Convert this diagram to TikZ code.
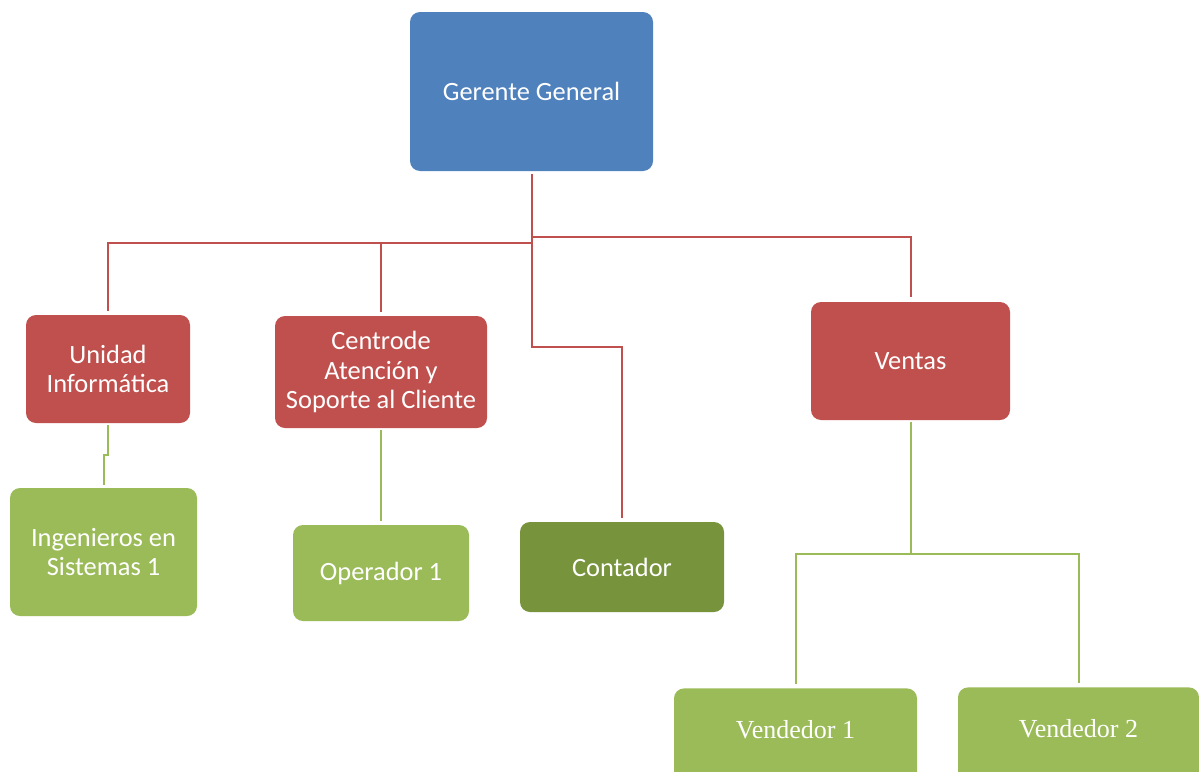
\documentclass[tikz,border=0pt]{standalone}
\usepackage{fontspec}
\setmainfont{Carlito}
\newfontfamily\vfont{Liberation Serif}
\definecolor{cblue}{HTML}{4F81BD}
\definecolor{cred}{HTML}{C0504D}
\definecolor{cgreen}{HTML}{9BBB59}
\definecolor{cdgreen}{HTML}{77933C}
\tikzset{
  box/.style={rounded corners=5pt, text=white, align=center, inner sep=0pt,
    font=\fontsize{13.2}{14.6}\selectfont},
  bluebox/.style={box, fill=cblue},
  redbox/.style={box, fill=cred},
  greenbox/.style={box, fill=cgreen},
  dgreenbox/.style={box, fill=cdgreen},
  serifbox/.style={box, fill=cgreen, font=\vfont\fontsize{13}{14.6}\selectfont,
    anchor=north, text height=25pt, text depth=22pt},
  rl/.style={draw=cred, line width=1pt},
  gl/.style={draw=cgreen, line width=1pt},
}
\begin{document}
\begin{tikzpicture}[x=0.5pt,y=-0.5pt]
\clip (0,0) rectangle (1199,771);
\useasboundingbox (0,0) rectangle (1199,771);

\node[bluebox, minimum width=121.5pt, minimum height=79.5pt] (gg) at (531.5,91.5) {Gerente General};
\node[redbox, minimum width=82pt, minimum height=54pt] (ui) at (108,369) {Unidad\\Informática};
\node[redbox, minimum width=106pt, minimum height=56pt] (ca) at (381,372) {Centrode\\Atención y\\Soporte al Cliente};
\node[redbox, minimum width=99.5pt, minimum height=59pt] (ve) at (910.5,361) {Ventas};
\node[greenbox, minimum width=93.5pt, minimum height=64pt] (ing) at (103.5,552) {Ingenieros en\\Sistemas 1};
\node[greenbox, minimum width=88pt, minimum height=48pt] (op) at (381,573) {Operador 1};
\node[dgreenbox, minimum width=102pt, minimum height=45pt] (co) at (622,567) {Contador};
\node[serifbox, minimum width=121.5pt] (v1) at (795.5,688) {Vendedor 1};
\node[serifbox, minimum width=120.5pt] (v2) at (1078.5,687) {Vendedor 2};

\coordinate (hC) at (531.5,243);
\coordinate (hL) at (108,243);
\coordinate (hR) at (531.5,237);
\coordinate (cj) at (531.5,347);
\coordinate (uj) at (108,455);
\coordinate (vj) at (910.5,554);

% red connectors
\draw[rl, shorten <=1.5pt, shorten >=2pt] (gg.south) -- (cj) -| (co.north);
\draw[rl, shorten >=2pt] (hC) -- (hL) -- (ui.north);
\draw[rl, shorten >=2pt] (ca.north |- hC) -- (ca.north);
\draw[rl, shorten >=2.5pt] (hR) -| (ve.north);

% green connectors
\draw[gl, shorten <=1pt, shorten >=1.5pt] (ui.south) -- (uj) -| (ing.north);
\draw[gl, shorten <=1pt, shorten >=2pt] (ca.south) -- (op.north);
\draw[gl, shorten <=1pt] (ve.south) -- (vj);
\draw[gl, shorten >=2pt] (vj) -| (v1.north);
\draw[gl, shorten >=2pt] (vj) -| (v2.north);
\end{tikzpicture}
\end{document}
